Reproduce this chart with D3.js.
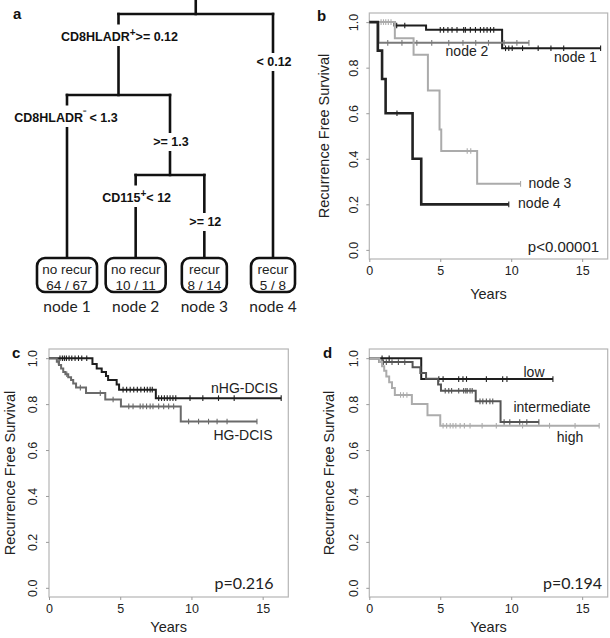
<!DOCTYPE html>
<html><head><meta charset="utf-8">
<script src="https://cdn.jsdelivr.net/npm/d3@7"></script>
<style>
html,body{margin:0;padding:0;background:#fff;}
svg{display:block;font-family:"Liberation Sans",Arial,sans-serif;}
</style></head>
<body>
<svg id="chart" width="610" height="638"></svg>
<script>
// ---------- DATA ----------
// Panel a: decision tree
const leafNames = ["node 1", "node 2", "node 3", "node 4"];
const leafClass = ["no recur", "no recur", "recur", "recur"];
const leafCounts = ["64 / 67", "10 / 11", "8 / 14", "5 / 8"];
const splitLeft = ["CD8HLADR|+|>= 0.12", "CD8HLADR|\u207B| < 1.3", "CD115|+|< 12"];
const splitRight = ["< 0.12", ">= 1.3", ">= 12"];

// Panel b: KM by tree node  (steps: [time, survival])
const bNames = ["node 1", "node 2", "node 3", "node 4"];
const bSteps = [
  [[1.77,0.985],[4.0,0.966],[9.36,0.885]],
  [[0.64,0.909]],
  [[1.8,0.929],[3.12,0.857],[4.13,0.70],[4.95,0.528],[5.07,0.434],[7.6,0.29]],
  [[0.6,0.875],[0.9,0.75],[1.15,0.6],[3.05,0.4],[3.66,0.2]]
];
const bEnd = [16.3, 11.25, 10.66, 9.83];
const bCensor = [
  [1.93,2.5,5.0,5.24,5.54,5.83,6.18,6.65,6.77,7.12,7.48,7.83,8.07,8.3,8.54,8.77,9.6,9.83,10.07,10.8,11.9,12.8,13.7,16.3],
  [1.3,2.3,3.35,4.4,5.6,6.6,7.5,8.4,9.5,10.4,11.25],
  [0.83,1.0,1.16,1.34,1.53,6.9,7.15,10.66],
  [1.95,9.83]
];
const bP = "p<0.00001";

// Panel c: KM by grade
const cNames = ["nHG-DCIS", "HG-DCIS"];
const cSteps = [
  [[3.05,0.975],[3.35,0.955],[3.7,0.94],[4.0,0.922],[4.15,0.905],[4.75,0.885],[4.92,0.863],[7.5,0.826]],
  [[0.55,0.985],[0.7,0.97],[0.85,0.955],[1.0,0.94],[1.15,0.93],[1.35,0.917],[1.55,0.905],[1.7,0.89],[1.9,0.872],[2.6,0.848],[3.95,0.82],[5.05,0.79],[9.25,0.724]]
];
const cEnd = [16.3, 14.6];
const cCensor = [
  [0.77,0.94,1.08,1.22,1.41,1.6,1.83,2.07,2.3,2.65,5.2,5.45,5.7,5.95,6.2,6.45,6.7,6.9,7.1,7.25,7.7,7.9,8.1,8.3,8.5,8.7,8.9,9.9,10.8,11.9,13.0,16.3],
  [0.65,1.25,2.2,3.6,4.5,5.6,5.9,6.4,6.6,6.85,7.1,7.3,7.7,8.05,8.4,8.75,9.8,10.5,11.2,11.8,12.5,14.6]
];
const cP = "p=0.216";

// Panel d: KM by risk group
const dNames = ["low", "intermediate", "high"];
const dSteps = [
  [[3.66,0.909]],
  [[0.7,0.983],[3.05,0.96],[3.6,0.935],[4.0,0.91],[4.85,0.885],[5.05,0.858],[7.5,0.812],[9.25,0.722]],
  [[0.7,0.983],[0.9,0.965],[1.05,0.945],[1.2,0.92],[1.4,0.895],[1.6,0.87],[1.8,0.84],[3.0,0.80],[4.1,0.752],[5.0,0.706]]
];
const dEnd = [12.94, 11.95, 16.2];
const dCensor = [
  [0.9,1.4,4.9,5.2,6.3,6.6,6.85,8.25,9.4,9.7,12.94],
  [1.0,1.2,1.6,2.05,2.5,5.35,5.6,5.8,6.3,6.65,6.8,6.9,7.1,7.25,7.8,8.0,8.25,8.5,8.7,9.5,9.9,10.6,11.1,11.95],
  [2.2,2.4,2.65,5.2,5.45,5.7,5.9,6.1,6.4,6.7,7.1,7.95,8.95,10.8,12.7,14.5,16.2]
];
const dP = "p=0.194";

const xTicks = [0, 5, 10, 15];
const yTicks = [0.0, 0.2, 0.4, 0.6, 0.8, 1.0];

// ---------- DRAW ----------
const svg = d3.select("#chart");

function panelLabel(t, x, y) {
  svg.append("text").attr("x", x).attr("y", y).text(t)
    .attr("font-weight", "bold").attr("font-size", 15).attr("fill", "#111");
}

// ----- Panel a: tree -----
(function () {
  panelLabel("a", 13, 19);
  const g = svg.append("g");
  const lx = d3.scalePoint().domain(leafNames).range([67, 273]);
  const depthY = [14, 95, 175];   // y of horizontal bars for splits
  const leafTop = 258, boxH = 34;
  const stroke = "#111", sw = 2.6;
  const X = leafNames.map(n => lx(n));
  const s3 = (X[1] + X[2]) / 2;       // split 3 position
  const s2 = (X[0] + s3) / 2;         // split 2 position
  const s1 = (s2 + X[3]) / 2;         // root position
  const segs = [
    [s1, 0, s1, depthY[0]],
    [s2, depthY[0], X[3], depthY[0]],
    [s2, depthY[0], s2, depthY[1]],
    [X[3], depthY[0], X[3], leafTop],
    [X[0], depthY[1], s3, depthY[1]],
    [X[0], depthY[1], X[0], leafTop],
    [s3, depthY[1], s3, depthY[2]],
    [X[1], depthY[2], X[2], depthY[2]],
    [X[1], depthY[2], X[1], leafTop],
    [X[2], depthY[2], X[2], leafTop]
  ];
  g.selectAll("line.tree").data(segs).enter().append("line")
    .attr("x1", d => d[0]).attr("y1", d => d[1]).attr("x2", d => d[2]).attr("y2", d => d[3])
    .attr("stroke", stroke).attr("stroke-width", sw).attr("stroke-linecap", "square");

  // split labels with white backing
  const labPos = [
    {t: splitLeft[0], x: s2 + 1, y: 37},
    {t: splitRight[0], x: X[3] + 1, y: 62},
    {t: splitLeft[1], x: X[0] - 1, y: 118},
    {t: splitRight[1], x: s3 + 1, y: 142},
    {t: splitLeft[2], x: X[1] + 1, y: 198},
    {t: splitRight[2], x: X[2] + 1, y: 222}
  ];
  labPos.forEach(p => {
    const tg = g.append("g");
    const txt = tg.append("text").attr("x", p.x).attr("y", p.y)
      .attr("text-anchor", "middle").attr("dominant-baseline", "central")
      .attr("font-weight", "bold").attr("font-size", 12.5).attr("fill", "#111");
    const parts = p.t.split("|");
    txt.append("tspan").text(parts[0]);
    if (parts.length > 1) {
      txt.append("tspan").text(parts[1]).attr("dy", -5).attr("font-size", 10);
      txt.append("tspan").text(parts[2]).attr("dy", 5);
    }
    const bb = txt.node().getBBox();
    tg.insert("rect", "text").attr("x", bb.x - 1).attr("y", bb.y - 2)
      .attr("width", bb.width + 2).attr("height", bb.height + 4).attr("fill", "#fff");
  });

  // leaf boxes
  const boxW = [60, 60, 45, 44];
  leafNames.forEach((n, i) => {
    const cx = X[i];
    g.append("rect").attr("x", cx - boxW[i] / 2).attr("y", leafTop)
      .attr("width", boxW[i]).attr("height", boxH).attr("rx", 8).attr("ry", 8)
      .attr("fill", "#fff").attr("stroke", stroke).attr("stroke-width", sw);
    g.append("text").attr("x", cx).attr("y", leafTop + 11).attr("text-anchor", "middle")
      .attr("dominant-baseline", "central").attr("font-size", 13.5).attr("fill", "#222").text(leafClass[i]);
    g.append("text").attr("x", cx).attr("y", leafTop + 27).attr("text-anchor", "middle")
      .attr("dominant-baseline", "central").attr("font-size", 13.5).attr("fill", "#222").text(leafCounts[i]);
    g.append("text").attr("x", cx).attr("y", 306).attr("text-anchor", "middle")
      .attr("dominant-baseline", "central").attr("font-family", "Lato, 'Open Sans', sans-serif")
      .attr("font-size", 15.5).attr("fill", "#222").text(n);
  });
})();

// ----- KM panel helper -----
function kmPanel(opt) {
  const g = svg.append("g");
  const x = d3.scaleLinear().domain([0, 16.8]).range([opt.left, opt.right]);
  const y = d3.scaleLinear().domain([-0.04, 1.04]).range([opt.bottom, opt.top]);
  const axisCol = "#9a9a9a";
  g.append("rect").attr("x", opt.left).attr("y", opt.top)
    .attr("width", opt.right - opt.left).attr("height", opt.bottom - opt.top)
    .attr("fill", "none").attr("stroke", "#b5b5b5").attr("stroke-width", 1.2);

  const xa = g.append("g").attr("transform", `translate(0,${opt.bottom})`)
    .call(d3.axisBottom(x).tickValues(xTicks).tickFormat(d3.format("d")).tickSize(3).tickPadding(4));
  xa.select(".domain").remove();
  xa.selectAll("line").attr("stroke", axisCol);
  xa.selectAll("text").attr("font-size", 12.5).attr("fill", "#222")
    .attr("font-family", "Liberation Sans, Arial, sans-serif");

  const ya = g.append("g").attr("transform", `translate(${opt.left},0)`)
    .call(d3.axisLeft(y).tickValues(yTicks).tickFormat(d3.format(".1f")).tickSize(3));
  ya.select(".domain").remove();
  ya.selectAll("line").attr("stroke", axisCol);
  ya.selectAll("text").remove();
  ya.selectAll(".tick").append("text")
    .attr("transform", `translate(${opt.ytx - opt.left},0) rotate(-90)`)
    .attr("text-anchor", "middle").attr("dominant-baseline", "central")
    .attr("font-size", 12.5).attr("fill", "#222")
    .attr("font-family", "Liberation Sans, Arial, sans-serif")
    .text(d => d3.format(".1f")(d));

  g.append("text").attr("transform", `translate(${opt.ylx},${(opt.top + opt.bottom) / 2}) rotate(-90)`)
    .attr("text-anchor", "middle").attr("dominant-baseline", "central")
    .attr("font-size", 14.5).attr("fill", "#222").text("Recurrence Free Survival");
  g.append("text").attr("x", (opt.left + opt.right) / 2).attr("y", opt.xly)
    .attr("text-anchor", "middle").attr("dominant-baseline", "central")
    .attr("font-size", 14.5).attr("fill", "#222").text("Years");

  const line = d3.line().x(d => x(d[0])).y(d => y(d[1])).curve(d3.curveStepAfter);
  opt.steps.forEach((st, i) => {
    const last = st.length ? st[st.length - 1][1] : 1;
    const pts = [[0, 1]].concat(st).concat([[opt.end[i], last]]);
    g.append("path").attr("d", line(pts)).attr("fill", "none")
      .attr("stroke", opt.colors[i]).attr("stroke-width", opt.widths[i]);
    const sAt = t => { let s = 1; st.forEach(p => { if (p[0] <= t) s = p[1]; }); return s; };
    g.selectAll(null).data(opt.censor[i]).enter().append("line")
      .attr("x1", d => x(d)).attr("x2", d => x(d))
      .attr("y1", d => y(sAt(d)) - 2.8).attr("y2", d => y(sAt(d)) + 2.8)
      .attr("stroke", opt.colors[i]).attr("stroke-width", 1.1);
  });
  opt.labels.forEach(l => {
    g.append("text").attr("x", l.x).attr("y", l.y).attr("text-anchor", "middle")
      .attr("dominant-baseline", "central").attr("font-size", l.fs || 14)
      .attr("font-family", l.ff || "Liberation Sans, Arial, sans-serif")
      .attr("fill", "#222").text(l.t);
  });
}

// ----- Panel b -----
panelLabel("b", 317, 21);
kmPanel({
  left: 369.3, right: 607.7, top: 13, bottom: 259,
  ytx: 353.5, ylx: 324, xly: 294,
  steps: bSteps, end: bEnd, censor: bCensor,
  colors: ["#1e1e1e", "#7a7a7a", "#ababab", "#222"],
  widths: [2, 2, 2, 2.6],
  labels: [
    {t: bNames[1], x: 467, y: 51},
    {t: bNames[0], x: 575.5, y: 57},
    {t: bNames[2], x: 550, y: 183},
    {t: bNames[3], x: 539.5, y: 203},
    {t: bP, x: 563.5, y: 246, fs: 15}
  ]
});

// ----- Panel c -----
panelLabel("c", 12, 358);
kmPanel({
  left: 49, right: 288.3, top: 349, bottom: 597,
  ytx: 33, ylx: 9.5, xly: 627,
  steps: cSteps, end: cEnd, censor: cCensor,
  colors: ["#1e1e1e", "#6a6a6a"],
  widths: [2, 2],
  labels: [
    {t: cNames[0], x: 244.5, y: 388},
    {t: cNames[1], x: 243, y: 435},
    {t: cP, x: 244, y: 582, fs: 16, ff: "Lato, 'Open Sans', sans-serif"}
  ]
});

// ----- Panel d -----
panelLabel("d", 323, 358);
kmPanel({
  left: 369.3, right: 607.7, top: 349, bottom: 597,
  ytx: 353.5, ylx: 329, xly: 627,
  steps: dSteps, end: dEnd, censor: dCensor,
  colors: ["#1e1e1e", "#555", "#acacac"],
  widths: [2, 2, 2],
  labels: [
    {t: dNames[0], x: 534, y: 372},
    {t: dNames[1], x: 552, y: 407},
    {t: dNames[2], x: 570, y: 437},
    {t: dP, x: 572.5, y: 582, fs: 16, ff: "Lato, 'Open Sans', sans-serif"}
  ]
});
</script>
</body></html>
